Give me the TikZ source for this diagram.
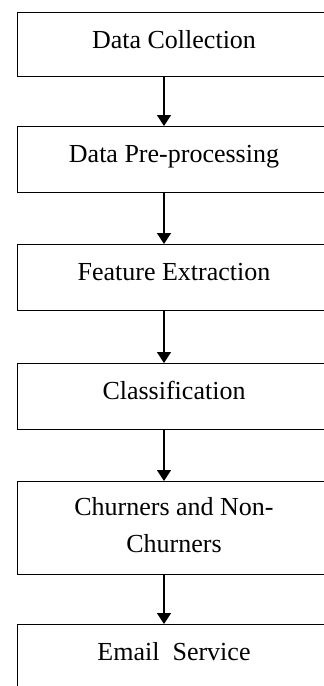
\documentclass[tikz,border=0pt]{standalone}
\usepackage{fontspec}
\setmainfont{Liberation Serif}
\usetikzlibrary{arrows.meta}

\tikzset{
  stage/.style={draw, line width=1.4pt, minimum width=313pt, inner sep=0pt,
    anchor=north, text height=36pt, text depth=30pt, align=center,
    font=\fontsize{26}{37}\selectfont},
  flow/.style={-{Triangle[length=11pt, width=14pt]}, line width=1.4pt},
}

\begin{document}
\begin{tikzpicture}[x=1pt, y=-1pt]
  \useasboundingbox (0,0) rectangle (324,686);
  \node[stage, text depth=28pt] (collect) at (174,12) {Data Collection};
  \node[stage] (prep) at (174,126) {Data Pre-processing};
  \node[stage] (feat) at (174,244) {Feature Extraction};
  \node[stage] (classif) at (174,363) {Classification};
  \node[stage, text height=71pt, text depth=22pt] (churn) at (174,481) {Churners and Non-\\Churners};
  \node[stage] (email) at (174,624) {Email\ \ Service};
  \draw[flow] ([xshift=-10pt]collect.south) -- ([xshift=-10pt]prep.north);
  \draw[flow] ([xshift=-10pt]prep.south) -- ([xshift=-10pt]feat.north);
  \draw[flow] ([xshift=-10pt]feat.south) -- ([xshift=-10pt]classif.north);
  \draw[flow] ([xshift=-10pt]classif.south) -- ([xshift=-10pt]churn.north);
  \draw[flow] ([xshift=-10pt]churn.south) -- ([xshift=-10pt]email.north);
\end{tikzpicture}
\end{document}
